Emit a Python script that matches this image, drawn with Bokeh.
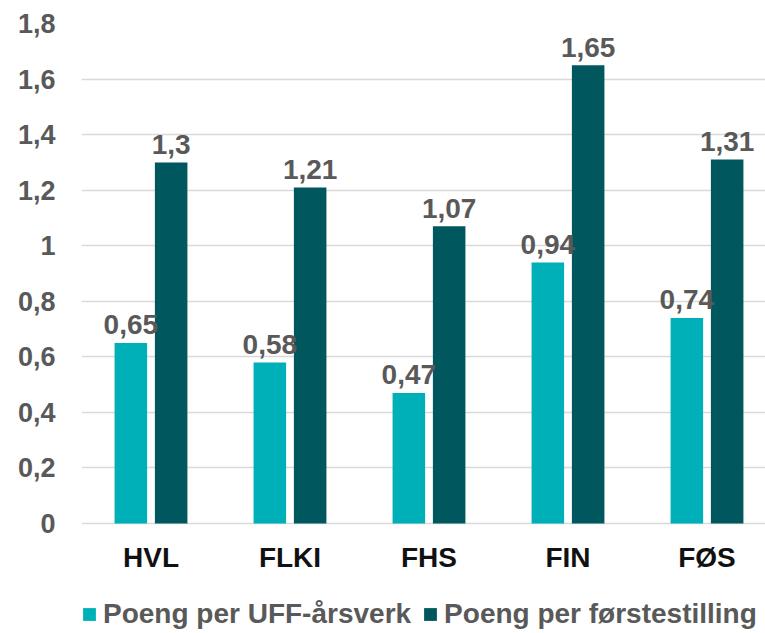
from bokeh.plotting import figure
from bokeh.models import ColumnDataSource, Range1d, FixedTicker, Legend, LegendItem
from bokeh.embed import file_html
from bokeh.resources import INLINE
from bokeh.core.properties import value

categories = ["HVL", "FLKI", "FHS", "FIN", "FØS"]
uff = [0.65, 0.58, 0.47, 0.94, 0.74]
forste = [1.30, 1.21, 1.07, 1.65, 1.31]
series_names = ["Poeng per UFF-årsverk", "Poeng per førstestilling"]
y_ticks = [0, 0.2, 0.4, 0.6, 0.8, 1.0, 1.2, 1.4, 1.6, 1.8]
y_tick_labels = ["0", "0,2", "0,4", "0,6", "0,8", "1", "1,2", "1,4", "1,6", "1,8"]

TEAL = "#00B0B9"
DARK = "#00585E"
GRAY = "#595959"
FONT = "Liberation Sans"

xc = [i + 0.5 for i in range(len(categories))]
off = 0.145
bw = 0.234

def fmt(v):
    return ("%g" % v).replace(".", ",")

src1 = ColumnDataSource(dict(x=[x - off for x in xc], top=uff, lab=[fmt(v) for v in uff]))
src2 = ColumnDataSource(dict(x=[x + off for x in xc], top=forste, lab=[fmt(v) for v in forste]))

# frame: 684 x 610 px; 500 px for the 0..1.8 value span, the rest below holds labels + legend
px_per_unit = 500 / 1.8
p = figure(frame_width=684, frame_height=610, output_backend="svg", toolbar_location=None,
           x_range=Range1d(0, 684 / 139), y_range=Range1d(1.8 - 610 / px_per_unit, 1.8),
           min_border_left=81, min_border_right=0, min_border_top=23, min_border_bottom=0)
p.outline_line_color = None
p.background_fill_color = "white"
p.border_fill_color = "white"

r1 = p.vbar(x="x", top="top", width=bw, bottom=0, source=src1, fill_color=TEAL, line_color=None)
r2 = p.vbar(x="x", top="top", width=bw, bottom=0, source=src2, fill_color=DARK, line_color=None)

for s in (src1, src2):
    p.text(x="x", y="top", text="lab", source=s, y_offset=-18, text_align="center",
           text_baseline="alphabetic", text_font=value(FONT), text_font_style="bold",
           text_font_size="28px", text_color=GRAY)

p.xgrid.grid_line_color = None
p.ygrid.grid_line_color = "#D9D9D9"
p.ygrid.grid_line_width = 1.5
p.ygrid.ticker = FixedTicker(ticks=y_ticks)

p.yaxis.ticker = FixedTicker(ticks=y_ticks)
p.yaxis.major_label_overrides = {t: l for t, l in zip(y_ticks, y_tick_labels)}
p.yaxis.axis_line_color = None
p.yaxis.major_tick_line_color = None
p.yaxis.minor_tick_line_color = None
p.yaxis.major_label_standoff = 20
p.yaxis.major_label_text_font = FONT
p.yaxis.major_label_text_font_style = "bold"
p.yaxis.major_label_text_font_size = "27px"
p.yaxis.major_label_text_color = GRAY

p.xaxis.fixed_location = 0
p.xaxis.ticker = FixedTicker(ticks=xc)
p.xaxis.major_label_overrides = {x: c for x, c in zip(xc, categories)}
p.xaxis.axis_line_color = None
p.xaxis.major_tick_line_color = None
p.xaxis.minor_tick_line_color = None
p.xaxis.major_label_standoff = 12
p.xaxis.major_label_text_font = FONT
p.xaxis.major_label_text_font_style = "bold"
p.xaxis.major_label_text_font_size = "28px"
p.xaxis.major_label_text_color = "#111111"

legend = Legend(items=[LegendItem(label=series_names[0], renderers=[r1]),
                       LegendItem(label=series_names[1], renderers=[r2])],
                orientation="horizontal", location=(0, 3),
                padding=0, margin=0, spacing=11, label_standoff=6,
                glyph_width=16, glyph_height=16,
                label_text_font=FONT, label_text_font_style="bold",
                label_text_font_size="28px", label_text_color=GRAY,
                border_line_color=None, background_fill_alpha=0)
p.add_layout(legend, "center")

open("out.html", "w").write(file_html(p, INLINE))
